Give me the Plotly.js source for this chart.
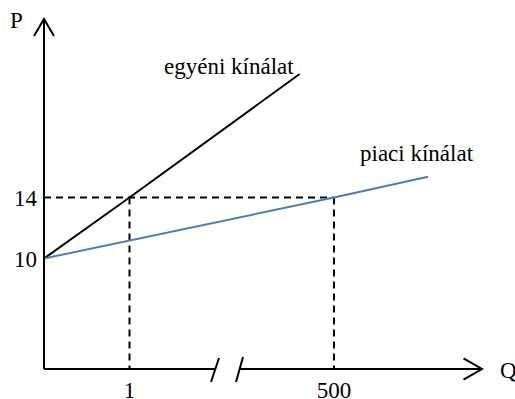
<!DOCTYPE html>
<html>
<head>
<meta charset="utf-8">
<script src="https://cdn.plot.ly/plotly-3.0.1.min.js"></script>
<style>
  html, body { margin: 0; padding: 0; background: #ffffff; }
  #chart { width: 515px; height: 399px; }
</style>
</head>
<body>
<div id="chart"></div>
<script>
// Individual (firm) supply: quantity in units of one firm's output
const indivQ = [0, 1, 2.99];
const indivP = [10, 14, 22.1];

// Market supply: quantity summed over all firms
const marketQ = [0, 500, 662];
const marketP = [10, 14, 15.36];

// Reference price and matching quantities
const refPrice = 14;
const indivRefQ = 1;
const marketRefQ = 500;

// Axis tick values and their labels
const priceTicks = [10, 14];
const priceTickText = ['10', '14'];
const indivTicks = [1];
const indivTickText = ['1'];
const marketTicks = [500];
const marketTickText = ['500'];

// Axis titles and curve labels
const priceLabel = 'P';
const quantityLabel = 'Q';
const indivLabel = 'egyéni kínálat';
const marketLabel = 'piaci kínálat';

const serif = '"Liberation Serif", "Times New Roman", Times, serif';
const yRange = [2.754, 25.705];
const pBase = yRange[0];

const dash = { color: '#000000', width: 2, dash: '7px,5px' };

const traces = [
  // dashed guide: horizontal at the reference price, up to the market point
  { x: [0, marketRefQ], y: [refPrice, refPrice], xaxis: 'x2', yaxis: 'y',
    mode: 'lines', line: dash, hoverinfo: 'skip' },
  // dashed drop from the individual point
  { x: [indivRefQ, indivRefQ], y: [refPrice, pBase], xaxis: 'x', yaxis: 'y',
    mode: 'lines', line: dash, hoverinfo: 'skip' },
  // dashed drop from the market point
  { x: [marketRefQ, marketRefQ], y: [refPrice, pBase], xaxis: 'x2', yaxis: 'y',
    mode: 'lines', line: dash, hoverinfo: 'skip' },
  // individual supply curve
  { x: indivQ, y: indivP, xaxis: 'x', yaxis: 'y', mode: 'lines',
    line: { color: '#000000', width: 2 }, hoverinfo: 'skip' },
  // market supply curve
  { x: marketQ, y: marketP, xaxis: 'x2', yaxis: 'y', mode: 'lines',
    line: { color: '#4a7ebb', width: 2 }, hoverinfo: 'skip' }
];

const axisLine = { color: '#000000', width: 2 };
const shapes = [
  // vertical price axis
  { type: 'line', xref: 'paper', yref: 'paper', x0: 0, x1: 0, y0: 0, y1: 1, line: axisLine },
  { type: 'path', xref: 'paper', yref: 'paper',
    path: 'M -0.0228 0.9514 L 0 1 L 0.0228 0.9514', line: axisLine },
  // horizontal quantity axis, broken between the two scales
  { type: 'line', xref: 'paper', yref: 'paper', x0: 0, x1: 0.3904, y0: 0, y1: 0, line: axisLine },
  { type: 'line', xref: 'paper', yref: 'paper', x0: 0.4475, x1: 1, y0: 0, y1: 0, line: axisLine },
  { type: 'line', xref: 'paper', yref: 'paper', x0: 0.3813, x1: 0.3995, y0: -0.0371, y1: 0.0314, line: axisLine },
  { type: 'line', xref: 'paper', yref: 'paper', x0: 0.4384, x1: 0.4543, y0: -0.0371, y1: 0.0343, line: axisLine },
  { type: 'path', xref: 'paper', yref: 'paper',
    path: 'M 0.9578 0.0306 L 1 0 L 0.9578 -0.0306', line: axisLine }
];

const textFont = { family: serif, size: 23, color: '#000000' };
const annotations = [
  { text: priceLabel, xref: 'paper', yref: 'paper', x: -0.0639, y: 0.9943,
    xanchor: 'center', yanchor: 'middle', showarrow: false, font: textFont },
  { text: quantityLabel, xref: 'paper', yref: 'paper', x: 1.0594, y: -0.003,
    xanchor: 'center', yanchor: 'middle', showarrow: false, font: textFont },
  { text: indivLabel, xref: 'paper', yref: 'paper', x: 0.4224, y: 0.8629,
    xanchor: 'center', yanchor: 'middle', showarrow: false, font: textFont },
  { text: marketLabel, xref: 'paper', yref: 'paper', x: 0.8516, y: 0.6143,
    xanchor: 'center', yanchor: 'middle', showarrow: false, font: textFont }
];

const layout = {
  width: 515,
  height: 399,
  margin: { l: 44, r: 33, t: 19, b: 30 },
  paper_bgcolor: '#ffffff',
  plot_bgcolor: '#ffffff',
  showlegend: false,
  font: { family: serif, size: 23, color: '#000000' },
  xaxis: {
    range: [0, 5.123], showgrid: false, zeroline: false, showline: false,
    tickmode: 'array', tickvals: indivTicks, ticktext: indivTickText,
    ticks: '', ticklabelstandoff: 5, fixedrange: true
  },
  xaxis2: {
    range: [0, 755.2], overlaying: 'x', anchor: 'y', side: 'bottom',
    showgrid: false, zeroline: false, showline: false,
    tickmode: 'array', tickvals: marketTicks, ticktext: marketTickText,
    ticks: '', ticklabelstandoff: 5, fixedrange: true
  },
  yaxis: {
    range: yRange, showgrid: false, zeroline: false, showline: false,
    tickmode: 'array', tickvals: priceTicks, ticktext: priceTickText,
    ticks: '', ticklabelstandoff: 6, fixedrange: true
  },
  shapes: shapes,
  annotations: annotations
};

Plotly.newPlot('chart', traces, layout, { staticPlot: true, displayModeBar: false });
</script>
</body>
</html>
